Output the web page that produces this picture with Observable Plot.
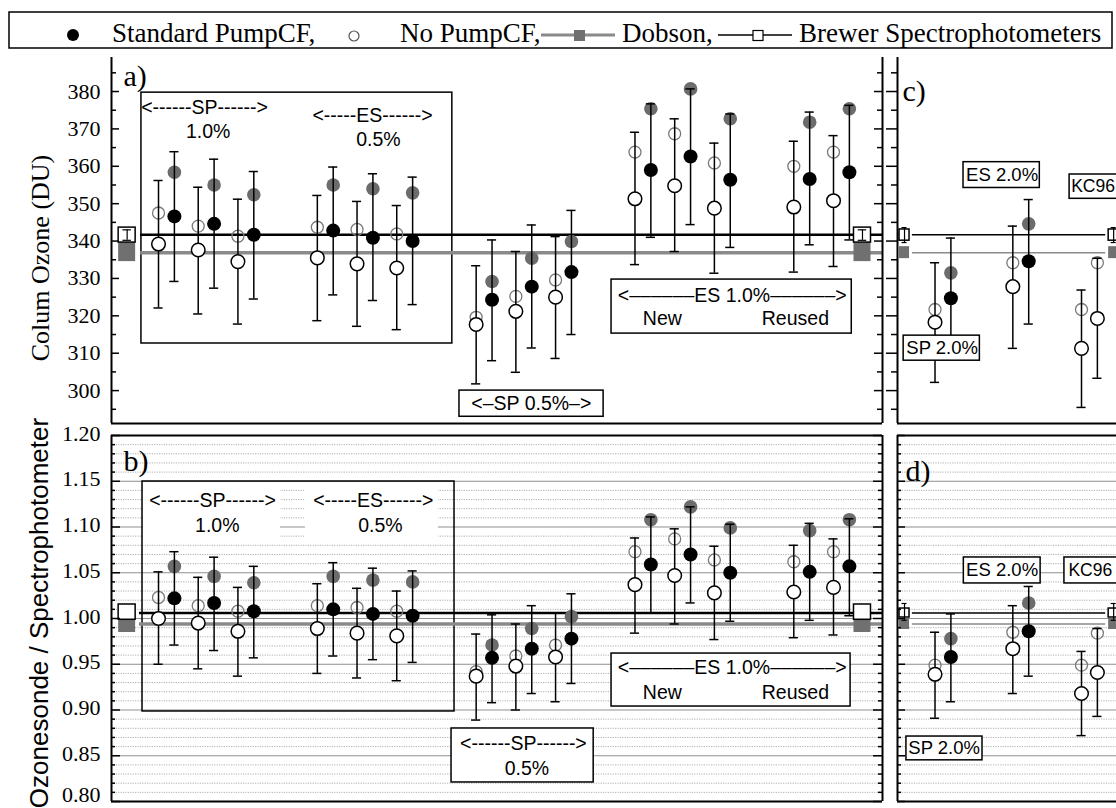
<!DOCTYPE html>
<html><head><meta charset="utf-8">
<script src="https://cdn.jsdelivr.net/npm/d3@7"></script>
<script src="https://cdn.jsdelivr.net/npm/@observablehq/plot@0.6"></script>
<style>
html,body{margin:0;padding:0;background:#fff;overflow:hidden}
#wrap{position:relative;width:1116px;height:808px;overflow:hidden;background:#fff}
#wrap > svg{position:absolute}
</style></head><body><div id="wrap"></div>
<script>
// ---------------- DATA ----------------
const groupsAB = ["SP 1.0%", "ES 0.5%", "SP 0.5%", "ES 1.0% New", "ES 1.0% Reused"];
const sondesPerGroup = [3, 3, 3, 3, 2];

// Panel a) column ozone (DU)
const noPumpGrayA = [347.5, 344.0, 341.3, 343.7, 343.1, 341.9, 319.6, 325.2, 329.6, 363.8, 368.7, 360.9, 360.0, 363.8];
const noPumpA     = [339.2, 337.6, 334.5, 335.5, 333.9, 332.8, 317.7, 321.2, 325.0, 351.3, 354.8, 348.8, 349.1, 350.8];
const noPumpLoA   = [322.1, 320.5, 317.8, 318.7, 317.2, 316.3, 301.8, 304.9, 308.6, 333.7, 337.2, 331.4, 331.7, 333.2];
const noPumpHiA   = [356.2, 354.4, 351.2, 352.2, 350.6, 349.5, 333.4, 337.2, 341.2, 369.1, 372.7, 366.2, 366.7, 368.2];
const stdGrayA    = [358.4, 355.0, 352.4, 355.0, 354.0, 352.9, 329.2, 335.4, 339.9, 375.4, 380.7, 372.7, 371.8, 375.4];
const stdA        = [346.6, 344.6, 341.7, 342.8, 340.9, 340.0, 324.3, 327.8, 331.7, 359.0, 362.6, 356.4, 356.6, 358.4];
const stdLoA      = [329.2, 327.4, 324.5, 325.6, 324.1, 323.0, 308.0, 311.4, 315.0, 341.0, 344.4, 338.3, 339.0, 340.3];
const stdHiA      = [363.9, 361.9, 358.6, 359.8, 358.0, 357.1, 340.3, 344.3, 348.2, 376.7, 380.7, 374.0, 374.5, 376.3];

// Panel b) ozonesonde / spectrophotometer ratio
const noPumpGrayB = [1.023, 1.014, 1.008, 1.014, 1.012, 1.008, 0.942, 0.959, 0.971, 1.073, 1.087, 1.064, 1.062, 1.073];
const noPumpB     = [1.000, 0.995, 0.986, 0.989, 0.984, 0.981, 0.937, 0.948, 0.958, 1.037, 1.047, 1.028, 1.029, 1.034];
const noPumpLoB   = [0.950, 0.945, 0.937, 0.940, 0.935, 0.932, 0.889, 0.900, 0.909, 0.984, 0.994, 0.977, 0.979, 0.982];
const noPumpHiB   = [1.051, 1.045, 1.034, 1.038, 1.033, 1.030, 0.983, 0.994, 1.006, 1.088, 1.098, 1.079, 1.080, 1.087];
const stdGrayB    = [1.057, 1.046, 1.039, 1.046, 1.042, 1.040, 0.971, 0.989, 1.002, 1.108, 1.122, 1.099, 1.096, 1.108];
const stdB        = [1.022, 1.017, 1.008, 1.010, 1.005, 1.003, 0.957, 0.967, 0.978, 1.059, 1.070, 1.050, 1.051, 1.057];
const stdLoB      = [0.971, 0.965, 0.957, 0.959, 0.955, 0.952, 0.908, 0.918, 0.929, 1.006, 1.017, 0.997, 0.998, 1.003];
const stdHiB      = [1.073, 1.067, 1.057, 1.061, 1.055, 1.052, 1.004, 1.014, 1.027, 1.111, 1.122, 1.103, 1.104, 1.109];

// Panels c) d) : 2.0% solutions and KC96
const groupsCD   = ["SP 2.0%", "ES 2.0%", "KC96"];
const groupPosCD = [0, 1.96, 3.69];
const pumpCD     = ["none", "std", "none", "std", "none", "none"];
const grayC = [321.7, 331.5, 334.2, 344.6, 321.7, 334.2];
const mainC = [318.3, 324.7, 327.8, 334.6, 311.3, 319.3];
const loC   = [302.2, 308.6, 311.3, 317.8, 295.5, 303.3];
const hiC   = [334.2, 340.8, 344.0, 351.1, 326.9, 335.4];
const grayD = [0.949, 0.978, 0.985, 1.017, 0.949, 0.984];
const mainD = [0.939, 0.958, 0.967, 0.986, 0.918, 0.941];
const loD   = [0.891, 0.909, 0.918, 0.937, 0.872, 0.893];
const hiD   = [0.985, 1.005, 1.014, 1.035, 0.964, 0.989];

// Reference spectrophotometers
const brewerA = 341.7, dobsonA = 336.9;
const brewerB = 1.006, dobsonB = 0.994;
const brewerBoxA = [339.6, 343.6], dobsonBoxA = [334.5, 339.6], brewerBarA = [340.2, 343.0];
const brewerBoxB = [0.9986, 1.0153], dobsonBoxB = [0.9847, 0.9986];
const brewerBoxC = [340.1, 343.1], dobsonBoxC = [335.3, 338.5], brewerBarC = [339.6, 343.6];
const brewerBoxD = [1.0011, 1.0109], dobsonBoxD = [0.988, 1.000], brewerBarD = [0.998, 1.0164];

// Tick labels
const ticksA = [300, 310, 320, 330, 340, 350, 360, 370, 380];
const minorA = [295, 305, 315, 325, 335, 345, 355, 365, 375, 385];
const ticksB = [0.80, 0.85, 0.90, 0.95, 1.00, 1.05, 1.10, 1.15, 1.20];
const minorB = [0.81,0.82,0.83,0.84,0.86,0.87,0.88,0.89,0.91,0.92,0.93,0.94,0.96,0.97,0.98,0.99,
                1.01,1.02,1.03,1.04,1.06,1.07,1.08,1.09,1.11,1.12,1.13,1.14,1.16,1.17,1.18,1.19];

const legendLabels = ["Standard PumpCF,", "No PumpCF,", "Dobson,", "Brewer Spectrophotometers"];
const yLabelTop = "Colum Ozone (DU)";
const yLabelBottom = "Ozonesonde / Spectrophotometer";

// ---------------- LAYOUT / STYLE ----------------
const serif = "'Liberation Serif','Times New Roman',serif";
const sans = "'Liberation Sans',Arial,sans-serif";
const GRAYFILL = "#6c6c6c", GRAYOPEN = "#7a7a7a", DOBSON = "#8a8a8a", DOBSONBOX = "#707070";
const pumpOffset = 0.4, capHalf = 0.115;
const xDomAB = [-1.184, 18.234];
const xDomCD = [-0.945, 5.428];
const yDomA = [291.2, 389.1];
const yDomB = [0.80, 1.20];
const edgeAB = [-0.79, 17.73], refHalfAB = 0.214, lineAB = [-0.45, 18.234];
const edgeCD = [-0.768, 4.50], refHalfCD = 0.126, lineCD = [-0.57, 4.30];

// build points
const ptsAB_A = [], ptsAB_B = [];
let idx = 0;
groupsAB.forEach((g, gi) => {
  for (let k = 0; k < sondesPerGroup[gi]; k++, idx++) {
    const slot = gi * 4 + k;
    ptsAB_A.push({group: g, x: slot, pump: "none", gray: noPumpGrayA[idx], main: noPumpA[idx], lo: noPumpLoA[idx], hi: noPumpHiA[idx]});
    ptsAB_A.push({group: g, x: slot + pumpOffset, pump: "std", gray: stdGrayA[idx], main: stdA[idx], lo: stdLoA[idx], hi: stdHiA[idx]});
    ptsAB_B.push({group: g, x: slot, pump: "none", gray: noPumpGrayB[idx], main: noPumpB[idx], lo: noPumpLoB[idx], hi: noPumpHiB[idx]});
    ptsAB_B.push({group: g, x: slot + pumpOffset, pump: "std", gray: stdGrayB[idx], main: stdB[idx], lo: stdLoB[idx], hi: stdHiB[idx]});
  }
});
const ptsC = pumpCD.map((p, i) => ({group: groupsCD[Math.floor(i / 2)], x: groupPosCD[Math.floor(i / 2)] + (i % 2) * pumpOffset, pump: p, gray: grayC[i], main: mainC[i], lo: loC[i], hi: hiC[i]}));
const ptsD = pumpCD.map((p, i) => ({group: groupsCD[Math.floor(i / 2)], x: groupPosCD[Math.floor(i / 2)] + (i % 2) * pumpOffset, pump: p, gray: grayD[i], main: mainD[i], lo: loD[i], hi: hiD[i]}));

function pointMarks(pts) {
  const none = pts.filter(d => d.pump === "none"), std = pts.filter(d => d.pump === "std");
  return [
    Plot.dot(std, {x: "x", y: "gray", r: 6.8, fill: GRAYFILL}),
    Plot.dot(none, {x: "x", y: "gray", r: 6, fill: "none", stroke: GRAYOPEN, strokeWidth: 1.3}),
    Plot.ruleX(pts, {x: "x", y1: "lo", y2: "hi", stroke: "#000", strokeWidth: 1.5}),
    Plot.ruleY(pts, {y: "lo", x1: d => d.x - capHalf, x2: d => d.x + capHalf, stroke: "#000", strokeWidth: 1.5}),
    Plot.ruleY(pts, {y: "hi", x1: d => d.x - capHalf, x2: d => d.x + capHalf, stroke: "#000", strokeWidth: 1.5}),
    Plot.dot(none, {x: "x", y: "main", r: 6.8, fill: "#fff", stroke: "#000", strokeWidth: 1.5}),
    Plot.dot(std, {x: "x", y: "main", r: 7, fill: "#000"})
  ];
}

function refMarks(edges, half, line, brewer, dobson, bBox, dBox, bBar, lw) {
  const recs = edges.map(x => ({x}));
  const m = [
    Plot.ruleY([dobson], {x1: line[0], x2: line[1], stroke: DOBSON, strokeWidth: lw[1]}),
    Plot.ruleY([brewer], {x1: line[0], x2: line[1], stroke: "#000", strokeWidth: lw[0]}),
    Plot.rect(recs, {x1: d => d.x - half, x2: d => d.x + half, y1: dBox[0], y2: dBox[1], fill: DOBSONBOX}),
    Plot.rect(recs, {x1: d => d.x - half, x2: d => d.x + half, y1: bBox[0], y2: bBox[1], fill: "#fff", stroke: "#000", strokeWidth: 1.5})
  ];
  if (bBar) {
    m.push(Plot.ruleX(recs, {x: "x", y1: bBar[0], y2: bBar[1], stroke: "#000", strokeWidth: 1.2}));
    m.push(Plot.ruleY(recs, {y: bBar[0], x1: d => d.x - half * 0.5, x2: d => d.x + half * 0.5, stroke: "#000", strokeWidth: 1.2}));
    m.push(Plot.ruleY(recs, {y: bBar[1], x1: d => d.x - half * 0.5, x2: d => d.x + half * 0.5, stroke: "#000", strokeWidth: 1.2}));
  }
  return m;
}

function tickMarks(major, minor, fw, side, lenMaj, lenMin, sw) {
  const opt = len => side === "inL" ? {insetRight: fw - len} : side === "inR" ? {insetLeft: fw - len} : {insetLeft: -len, insetRight: fw};
  return [
    Plot.tickY(major, {y: d => d, stroke: "#000", strokeWidth: sw, ...opt(lenMaj)}),
    Plot.tickY(minor, {y: d => d, stroke: "#000", strokeWidth: sw, ...opt(lenMin)})
  ];
}

function annot(boxes, texts, fs) {
  return [
    Plot.rect(boxes, {x1: "x1", x2: "x2", y1: "y1", y2: "y2", fill: d => d.fill, stroke: d => d.stroke ?? "#000", strokeWidth: 1.5}),
    Plot.text(texts.filter(d => d.a !== "start"), {x: "x", y: "y", text: "t", fontFamily: sans, fontSize: fs, fill: "#000", textAnchor: "middle"}),
    Plot.text(texts.filter(d => d.a === "start"), {x: "x", y: "y", text: "t", fontFamily: sans, fontSize: fs - 1, fill: "#000", textAnchor: "start"})
  ];
}

const wrap = document.getElementById("wrap");
function place(el, left, top) { el.style.left = left + "px"; el.style.top = top + "px"; wrap.appendChild(el); }

// ---------------- LEGEND ----------------
{
  const svg = d3.create("svg").attr("width", 1116).attr("height", 52).style("position", "absolute");
  svg.append("rect").attr("x", 9).attr("y", 12).attr("width", 1103).attr("height", 36).attr("fill", "#fff").attr("stroke", "#000").attr("stroke-width", 1.5);
  svg.append("circle").attr("cx", 73).attr("cy", 35).attr("r", 6).attr("fill", "#000");
  svg.append("circle").attr("cx", 354).attr("cy", 36).attr("r", 5).attr("fill", "none").attr("stroke", "#555").attr("stroke-width", 1.2);
  svg.append("line").attr("x1", 541).attr("x2", 615).attr("y1", 35).attr("y2", 35).attr("stroke", DOBSON).attr("stroke-width", 3);
  svg.append("rect").attr("x", 574).attr("y", 30).attr("width", 11).attr("height", 11).attr("fill", DOBSONBOX);
  svg.append("line").attr("x1", 718).attr("x2", 792).attr("y1", 35).attr("y2", 35).attr("stroke", "#000").attr("stroke-width", 1.5);
  svg.append("rect").attr("x", 753).attr("y", 30.5).attr("width", 10).attr("height", 10).attr("fill", "#fff").attr("stroke", "#000").attr("stroke-width", 1.2);
  const lx = [112, 400, 622, 799];
  legendLabels.forEach((t, i) => svg.append("text").attr("x", lx[i]).attr("y", 42).attr("font-family", serif).attr("font-size", 27).text(t));
  place(svg.node(), 0, 0);
}

// ---------------- PANEL a ----------------
{
  const fw = 771;
  const boxes = [
    {x1: -0.43, x2: 7.40, y1: 312.6, y2: 379.7, fill: "none"},
    {x1: 7.58, x2: 11.21, y1: 293.0, y2: 300.0, fill: "#fff"},
    {x1: 11.41, x2: 17.46, y1: 315.25, y2: 329.7, fill: "#fff"}
  ];
  const texts = [
    {x: 1.16, y: 375.7, t: "<------SP------>"},
    {x: 1.25, y: 369.3, t: "1.0%"},
    {x: 5.39, y: 373.6, t: "<-----ES------>"},
    {x: 5.54, y: 367.2, t: "0.5%"},
    {x: 9.39, y: 296.5, t: "<\u2013SP 0.5%\u2013>"},
    {x: 14.45, y: 325.4, t: "<\u2013\u2013\u2013\u2013\u2013\u2013ES 1.0%\u2013\u2013\u2013\u2013\u2013\u2013>"},
    {x: 12.69, y: 319.3, t: "New"},
    {x: 16.04, y: 319.3, t: "Reused"}
  ];
  const p = Plot.plot({
    width: 890, height: 380, marginLeft: 111, marginRight: 8, marginTop: 7, marginBottom: 7,
    x: {domain: xDomAB, axis: null},
    y: {domain: yDomA},
    style: {fontFamily: serif, fontSize: "22px", background: "transparent", overflow: "visible", color: "#000"},
    marks: [
      ...annot(boxes, texts, 19.5),
      ...refMarks(edgeAB, refHalfAB, lineAB, brewerA, dobsonA, brewerBoxA, dobsonBoxA, brewerBarA, [2.5, 3.5]),
      ...pointMarks(ptsAB_A),
      Plot.ruleX(xDomAB, {stroke: "#000", strokeWidth: 2}),
      Plot.ruleY([yDomA[0]], {stroke: "#000", strokeWidth: 2}),
      ...tickMarks(ticksA, minorA, fw, "inL", 8, 5, 1.5),
      ...tickMarks(ticksA, minorA, fw, "inR", 8, 5, 1.5),
      Plot.axisY({ticks: ticksA, anchor: "left", tickSize: 0, tickPadding: 11, label: null, tickFormat: d => d, fontFamily: serif, fontSize: 22}),
      Plot.text(["a)"], {frameAnchor: "top-left", text: d => d, dx: 12, dy: 6.7, textAnchor: "start", lineAnchor: "top", fontSize: 30, fontFamily: serif}),
      Plot.text([yLabelTop], {frameAnchor: "left", text: d => d, rotate: -90, dx: -63, dy: 17.5, textAnchor: "middle", lineAnchor: "bottom", fontSize: 26, fontFamily: serif})
    ]
  });
  place(p, 0, 50);
}

// ---------------- PANEL b ----------------
{
  const fw = 771;
  const boxes = [
    {x1: -0.378, x2: 3.073, y1: 1.0885, y2: 1.1432, fill: "#fff", stroke: "none"},
    {x1: 3.70, x2: 7.05, y1: 1.0885, y2: 1.1432, fill: "#fff", stroke: "none"},
    {x1: -0.403, x2: 7.455, y1: 0.8984, y2: 1.1497, fill: "none"},
    {x1: 7.38, x2: 10.96, y1: 0.8208, y2: 0.8798, fill: "#fff"},
    {x1: 11.41, x2: 17.43, y1: 0.9038, y2: 0.9617, fill: "#fff"}
  ];
  const texts = [
    {x: 1.36, y: 1.129, t: "<------SP------>"},
    {x: 1.48, y: 1.1016, t: "1.0%"},
    {x: 5.41, y: 1.129, t: "<-----ES------>"},
    {x: 5.59, y: 1.1016, t: "0.5%"},
    {x: 9.19, y: 0.8634, t: "<------SP------>"},
    {x: 9.28, y: 0.836, t: "0.5%"},
    {x: 14.45, y: 0.9464, t: "<\u2013\u2013\u2013\u2013\u2013\u2013ES 1.0%\u2013\u2013\u2013\u2013\u2013\u2013>"},
    {x: 12.69, y: 0.9191, t: "New"},
    {x: 16.04, y: 0.9191, t: "Reused"}
  ];
  const p = Plot.plot({
    width: 890, height: 378, marginLeft: 111, marginRight: 8, marginTop: 5, marginBottom: 7,
    x: {domain: xDomAB, axis: null},
    y: {domain: yDomB},
    style: {fontFamily: serif, fontSize: "22px", background: "transparent", overflow: "visible", color: "#000"},
    marks: [
      Plot.ruleY(minorB, {stroke: "#b0b0b0", strokeWidth: 1, strokeDasharray: "1.2,1.2"}),
      Plot.ruleY(ticksB, {stroke: "#8f8f8f", strokeWidth: 1}),
      ...annot(boxes, texts, 19.5),
      ...refMarks(edgeAB, refHalfAB, [-0.48, 18.234], brewerB, dobsonB, brewerBoxB, dobsonBoxB, null, [2.5, 3.5]),
      ...pointMarks(ptsAB_B),
      Plot.ruleX(xDomAB, {stroke: "#000", strokeWidth: 2}),
      Plot.ruleY(yDomB, {stroke: "#000", strokeWidth: 2}),
      ...tickMarks(ticksB, minorB, fw, "inL", 9, 4, 1.5),
      ...tickMarks(ticksB, minorB, fw, "inR", 9, 4, 1.5),
      Plot.axisY({ticks: ticksB.slice(1), anchor: "left", tickSize: 0, tickPadding: 11, label: null, tickFormat: d3.format(".2f"), fontFamily: serif, fontSize: 22, dy: -2}),
      Plot.axisY({ticks: ticksB.slice(0, 1), anchor: "left", tickSize: 0, tickPadding: 11, label: null, tickFormat: d3.format(".2f"), fontFamily: serif, fontSize: 22, dy: -7}),
      Plot.text(["b)"], {frameAnchor: "top-left", text: d => d, dx: 12, dy: 13.7, textAnchor: "start", lineAnchor: "top", fontSize: 30, fontFamily: serif}),
      Plot.text([yLabelBottom], {frameAnchor: "left", text: d => d, rotate: -90, dx: -64, dy: -5.5, textAnchor: "middle", lineAnchor: "bottom", fontSize: 26, fontFamily: sans})
    ]
  });
  place(p, 0, 430);
}

// ---------------- PANEL c ----------------
{
  const fw = 253;
  const boxes = [
    {x1: 0.718, x2: 2.64, y1: 354.2, y2: 361.1, fill: "#fff"},
    {x1: 3.39, x2: 5.6, y1: 351.3, y2: 357.8, fill: "#fff"},
    {x1: -0.79, x2: 1.13, y1: 308.0, y2: 314.7, fill: "#fff"}
  ];
  const texts = [
    {x: 1.69, y: 357.65, t: "ES 2.0%"},
    {x: 3.43, y: 354.55, t: "KC96", a: "start"},
    {x: 0.18, y: 311.35, t: "SP 2.0%"}
  ];
  const p = Plot.plot({
    width: 265, height: 380, marginLeft: 12, marginRight: 0, marginTop: 7, marginBottom: 7,
    x: {domain: xDomCD, axis: null},
    y: {domain: yDomA, axis: null},
    style: {fontFamily: serif, fontSize: "22px", background: "transparent", overflow: "visible", color: "#000"},
    marks: [
      ...refMarks(edgeCD, refHalfCD, lineCD, brewerA, dobsonA, brewerBoxC, dobsonBoxC, brewerBarC, [1.5, 1.5]),
      ...pointMarks(ptsC),
      ...annot(boxes, texts, 18.5),
      Plot.ruleX([xDomCD[0]], {stroke: "#000", strokeWidth: 2}),
      Plot.ruleY([yDomA[0]], {stroke: "#000", strokeWidth: 2}),
      ...tickMarks(ticksA, minorA, fw, "outL", 11, 6, 1.5),
      Plot.text(["c)"], {frameAnchor: "top-left", text: d => d, dx: 5, dy: 21.7, textAnchor: "start", lineAnchor: "top", fontSize: 30, fontFamily: serif})
    ]
  });
  place(p, 885, 50);
}

// ---------------- PANEL d ----------------
{
  const fw = 253;
  const boxes = [
    {x1: 0.726, x2: 2.66, y1: 1.0383, y2: 1.0667, fill: "#fff"},
    {x1: 3.26, x2: 5.6, y1: 1.0383, y2: 1.0667, fill: "#fff"},
    {x1: -0.72, x2: 1.196, y1: 0.845, y2: 0.871, fill: "#fff"}
  ];
  const texts = [
    {x: 1.69, y: 1.0525, t: "ES 2.0%"},
    {x: 3.36, y: 1.0525, t: "KC96", a: "start"},
    {x: 0.23, y: 0.858, t: "SP 2.0%"}
  ];
  const p = Plot.plot({
    width: 265, height: 378, marginLeft: 12, marginRight: 0, marginTop: 5, marginBottom: 7,
    x: {domain: xDomCD, axis: null},
    y: {domain: yDomB, axis: null},
    style: {fontFamily: serif, fontSize: "22px", background: "transparent", overflow: "visible", color: "#000"},
    marks: [
      Plot.ruleY(minorB, {stroke: "#b0b0b0", strokeWidth: 1, strokeDasharray: "1.2,1.2"}),
      Plot.ruleY(ticksB, {stroke: "#8f8f8f", strokeWidth: 1}),
      ...refMarks(edgeCD, refHalfCD, lineCD, brewerB, dobsonB, brewerBoxD, dobsonBoxD, brewerBarD, [1.5, 1.5]),
      ...pointMarks(ptsD),
      ...annot(boxes, texts, 18.5),
      Plot.ruleX([xDomCD[0]], {stroke: "#000", strokeWidth: 2}),
      Plot.ruleY(yDomB, {stroke: "#000", strokeWidth: 2}),
      ...tickMarks(ticksB, minorB, fw, "inL", 8, 4, 1.5),
      Plot.text(["d)"], {frameAnchor: "top-left", text: d => d, dx: 8, dy: 23.7, textAnchor: "start", lineAnchor: "top", fontSize: 30, fontFamily: serif})
    ]
  });
  place(p, 885, 430);
}
</script></body></html>
